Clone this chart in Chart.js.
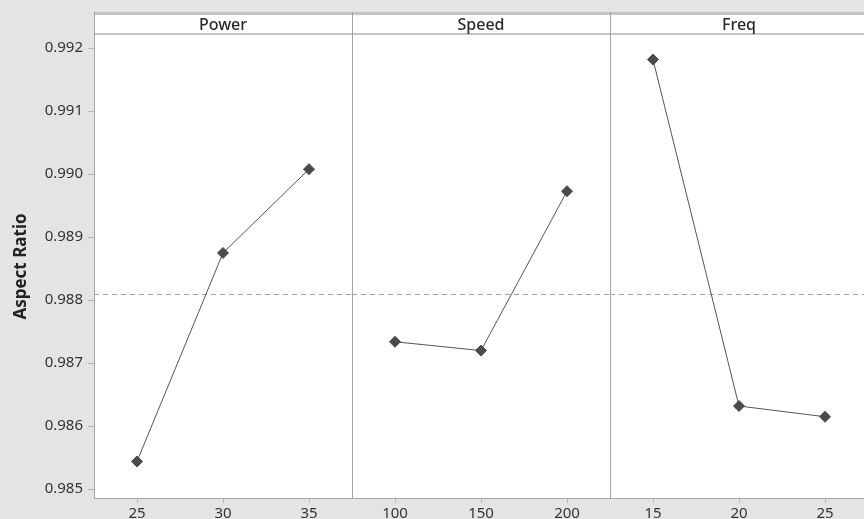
<!DOCTYPE html>
<html>
<head>
<meta charset="utf-8">
<script src="https://cdn.jsdelivr.net/npm/chart.js@4/dist/chart.umd.min.js"></script>
<style>
  html, body { margin:0; padding:0; background:#e4e4e4; width:864px; height:519px; overflow:hidden; }
  .wrap { position:absolute; top:0; height:519px; }
  canvas { display:block; }
</style>
</head>
<body>
<div class="wrap" id="w0" style="left:0;width:352px"><canvas id="c0"></canvas></div>
<div class="wrap" id="w1" style="left:352px;width:258px"><canvas id="c1"></canvas></div>
<div class="wrap" id="w2" style="left:610px;width:258px"><canvas id="c2"></canvas></div>
<script>
// ---- data ----
const panelNames  = ["Power", "Speed", "Freq"];
const powerLevels = ["25", "30", "35"];
const speedLevels = ["100", "150", "200"];
const freqLevels  = ["15", "20", "25"];
const powerMeans  = [0.98544, 0.98875, 0.99008];
const speedMeans  = [0.98734, 0.98720, 0.98973];
const freqMeans   = [0.99182, 0.98632, 0.98615];
const grandMean   = 0.98810;
const yAxisTitle  = "Aspect Ratio";
const yMin = 0.98486, yMax = 0.99221, yStep = 0.001;

const FONT = "'Noto Sans', 'Open Sans', sans-serif";
const HEADER_TOP = 12;

const panelPlugin = {
  id: 'panel',
  beforeDraw(chart, args, opts) {
    const {ctx, chartArea: a} = chart;
    ctx.save();
    ctx.fillStyle = '#ffffff';
    ctx.fillRect(a.left, HEADER_TOP, a.right - a.left, a.bottom - HEADER_TOP);
    ctx.restore();
  },
  beforeDatasetsDraw(chart, args, opts) {
    const {ctx, chartArea: a, scales} = chart;
    const y = Math.round(scales.y.getPixelForValue(opts.mean)) + 0.5;
    ctx.save();
    ctx.strokeStyle = '#a0a0a0';
    ctx.lineWidth = 1;
    ctx.setLineDash([5, 4]);
    ctx.beginPath();
    ctx.moveTo(a.left, y);
    ctx.lineTo(a.right, y);
    ctx.stroke();
    ctx.restore();
  },
  afterDraw(chart, args, opts) {
    const {ctx, chartArea: a} = chart;
    ctx.save();
    // header lines
    ctx.strokeStyle = '#c4c4c4';
    ctx.lineWidth = 3;
    ctx.beginPath();
    ctx.moveTo(a.left, HEADER_TOP + 1.5); ctx.lineTo(a.right, HEADER_TOP + 1.5);
    ctx.stroke();
    ctx.lineWidth = 2;
    ctx.beginPath();
    ctx.moveTo(a.left, a.top - 1); ctx.lineTo(a.right, a.top - 1);
    ctx.stroke();
    // left border of this panel
    ctx.strokeStyle = '#a4a4a4';
    ctx.lineWidth = 1;
    ctx.beginPath();
    ctx.moveTo(a.left + 0.5, HEADER_TOP); ctx.lineTo(a.left + 0.5, a.bottom + 1);
    ctx.stroke();
    // header text
    ctx.fillStyle = '#2a2a2a';
    ctx.font = "500 16px " + FONT;
    ctx.textAlign = 'center';
    ctx.textBaseline = 'middle';
    ctx.fillText(opts.label, (a.left + a.right) / 2, (HEADER_TOP + a.top) / 2 + 2);
    ctx.restore();
  }
};

function makeChart(idx, labels, values, showY) {
  const el = document.getElementById('c' + idx);
  return new Chart(el, {
    type: 'line',
    data: {
      labels: labels,
      datasets: [{
        data: values,
        borderColor: '#555555',
        borderWidth: 1,
        pointStyle: 'rectRot',
        pointRadius: 5.5,
        pointBackgroundColor: '#4a4a4a',
        pointBorderColor: '#4a4a4a',
        pointBorderWidth: 1,
        tension: 0
      }]
    },
    options: {
      responsive: true,
      maintainAspectRatio: false,
      animation: false,
      layout: { autoPadding: false, padding: { top: 35, left: 0, right: 0, bottom: 0 } },
      plugins: {
        legend: { display: false },
        tooltip: { enabled: false },
        panel: { label: panelNames[idx], mean: grandMean }
      },
      scales: {
        x: {
          type: 'category',
          offset: true,
          grid: { display: true, drawOnChartArea: false, tickLength: 5, color: '#b8b8b8', offset: false },
          border: { display: true, color: '#a8a8a8' },
          ticks: { color: '#333333', font: { family: FONT, size: 15 }, padding: 2, maxRotation: 0, autoSkip: false },
          afterFit(s) { s.height = 21; }
        },
        y: {
          display: showY,
          min: yMin, max: yMax,
          ticks: {
            stepSize: yStep,
            includeBounds: false,
            color: '#333333',
            font: { family: FONT, size: 15 },
            padding: 5,
            callback: v => v.toFixed(3)
          },
          grid: { display: true, drawOnChartArea: false, tickLength: 6, color: '#b8b8b8' },
          border: { display: true, color: '#a4a4a4' },
          title: {
            display: showY,
            text: yAxisTitle,
            color: '#222222',
            font: { family: FONT, size: 17, weight: 'bold' },
            padding: { top: 11, bottom: 0 }
          },
          afterFit(s) { if (showY) s.width = 94; }
        }
      }
    },
    plugins: [panelPlugin]
  });
}

makeChart(0, powerLevels, powerMeans, true);
makeChart(1, speedLevels, speedMeans, false);
makeChart(2, freqLevels, freqMeans, false);
</script>
</body>
</html>
